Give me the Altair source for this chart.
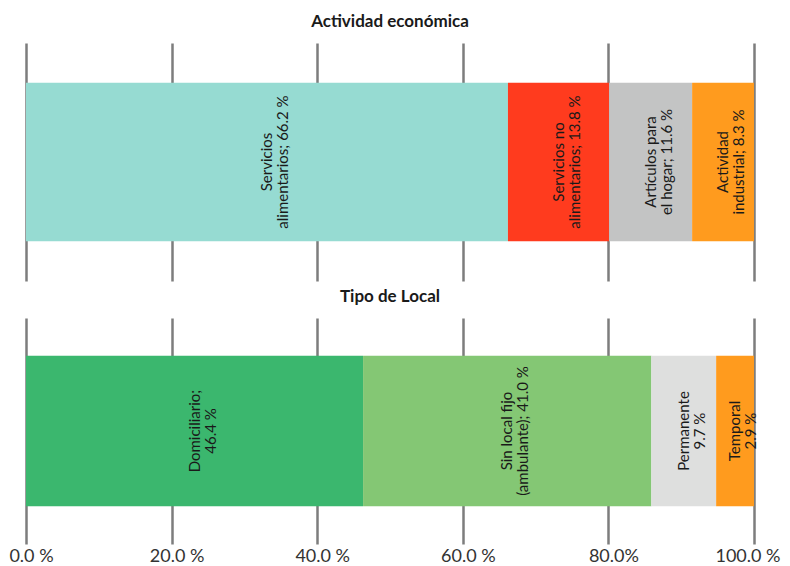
import altair as alt
import pandas as pd

# ---- data ----
act_cats = ["Servicios alimentarios", "Servicios no alimentarios", "Artículos para el hogar", "Actividad industrial"]
act_vals = [66.2, 13.9, 11.4, 8.5]          # segment widths as drawn
act_text = ["Servicios\nalimentarios; 66.2 %", "Servicios no\nalimentarios; 13.8 %",
            "Artículos para\nel hogar; 11.6 %", "Actividad\nindustrial; 8.3 %"]
act_colors = ["#96DBD2", "#FF3B1E", "#C3C4C4", "#FF9B1E"]

loc_cats = ["Domiciliario", "Sin local fijo (ambulante)", "Permanente", "Temporal"]
loc_vals = [46.3, 39.6, 8.9, 5.2]           # segment widths as drawn
loc_text = ["Domiciliario;\n46.4 %", "Sin local fijo\n(ambulante); 41.0 %", "Permanente\n9.7 %", "Temporal\n2.9 %"]
loc_colors = ["#3BB76E", "#84C774", "#DEDFDE", "#FF9B1E"]

tick_values = [0, 20, 40, 60, 80, 100]
tick_labels = ["0.0 %", "20.0 %", "40.0 %", "60.0 %", "80.0%", "100.0 %"]

FONT = "Lato"


def frame(cats, vals, texts):
    start, rows = 0.0, []
    for c, v, t in zip(cats, vals, texts):
        rows.append({"cat": c, "val": v, "start": start, "end": start + v,
                     "mid": start + v / 2, "txt": t, "row": "a"})
        start += v
    return pd.DataFrame(rows)


label_expr = "[" + ",".join("'" + s + "'" for s in tick_labels) + "][round(datum.value/20)]"


def panel(df, cats, colors, title, h, show_labels):
    xaxis = alt.Axis(values=tick_values, grid=True, gridColor="#7d7d7d", gridWidth=2.5,
                     domain=False, ticks=False, labels=show_labels, labelExpr=label_expr,
                     labelFlush=False, labelOverlap=False,
                     labelAlign={"condition": {"test": "datum.value == 100", "value": "right"}, "value": "center"},
                     labelOffset={"condition": {"test": "datum.value == 100", "value": 26}, "value": 5},
                     labelFont=FONT, labelFontSize=18, labelColor="#333333", labelPadding=3,
                     title=None)
    xs = alt.Scale(domain=[0, 100], nice=False, zero=True)
    ys = alt.Scale(paddingOuter=0.25, paddingInner=0)
    base = alt.Chart(df)
    bars = base.mark_bar(strokeWidth=0).encode(
        x=alt.X("start:Q", scale=xs, axis=xaxis),
        x2="end:Q",
        y=alt.Y("row:N", scale=ys, axis=None),
        color=alt.Color("cat:N", scale=alt.Scale(domain=cats, range=colors), legend=None),
    )
    txt = base.mark_text(angle=270, lineBreak="\n", font=FONT, fontSize=15,
                         color="#1a1a1a", align="center", baseline="middle", lineHeight=16).encode(
        x=alt.X("mid:Q", scale=xs),
        y=alt.Y("row:N", scale=ys, axis=None),
        text="txt:N",
    )
    return alt.layer(bars, txt).properties(
        width=728, height=h,
        title=alt.TitleParams(title, font=FONT, fontSize=17, fontWeight="bold",
                              color="#1a1a1a", offset=12, anchor="middle"),
    )


top = panel(frame(act_cats, act_vals, act_text), act_cats, act_colors, "Actividad económica", 238, False)
bottom = panel(frame(loc_cats, loc_vals, loc_text), loc_cats, loc_colors, "Tipo de Local", 226, True)

chart = alt.vconcat(top, bottom, spacing=7).resolve_scale(color="independent").properties(
    padding={"left": 0, "top": 5, "right": 2, "bottom": 0}
).configure_view(stroke=None)

chart.save("out.html", embed_options={"renderer": "svg", "actions": False})
